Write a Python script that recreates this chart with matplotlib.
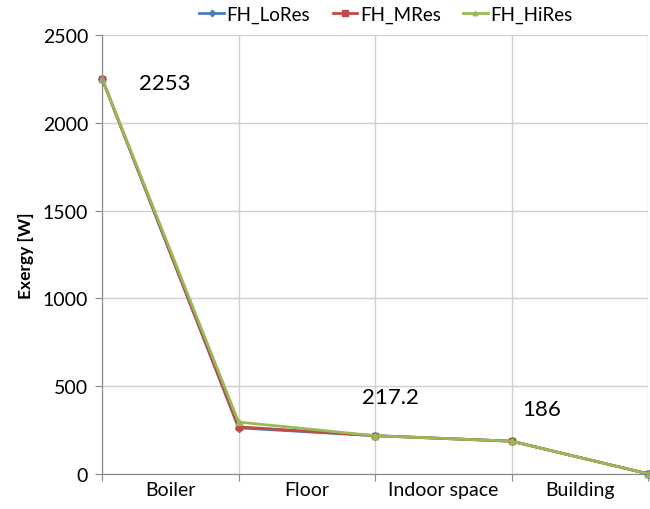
import numpy as np
import matplotlib.pyplot as plt

plt.rcParams['font.family'] = ['Lato', 'DejaVu Sans']

# data
stages = ["Boiler", "Floor", "Indoor space", "Building"]
lores = [2253, 262, 217.2, 186, 0]
mres = [2253, 268, 217.2, 186, 0]
hires = [2253, 295, 217.2, 186, 0]
labels = ["2253", "217.2", "186"]
label_idx = [0, 2, 3]

x = np.arange(len(lores))

fig = plt.figure(figsize=(6.5, 5.1), dpi=100)
ax = fig.add_axes([0.157, 0.069, 0.84, 0.86])

ax.plot(x, lores, color="#4a7ebb", lw=2, marker="D", ms=4, label="FH_LoRes", clip_on=False)
ax.plot(x, mres, color="#be4b48", lw=2, marker="s", ms=5, label="FH_MRes", clip_on=False)
ax.plot(x, hires, color="#98b954", lw=2, marker="^", ms=4, label="FH_HiRes", clip_on=False)

offs = [(45, -3), (11, 28), (22, 23)]
for i, t, o in zip(label_idx, labels, offs):
    ax.annotate(t, (x[i], lores[i]), xytext=o, textcoords="offset points",
                fontsize=16, ha="center", va="center")

ax.set_xlim(0, 4)
ax.set_ylim(0, 2500)
ax.set_yticks(np.arange(0, 2501, 500))
ax.set_xticks(x)
ax.set_xticklabels([])
ax.set_xticks(x[:-1] + 0.5, minor=True)
ax.set_xticklabels(stages, minor=True, fontsize=14)
ax.tick_params(axis="x", which="minor", length=0, pad=5)
ax.tick_params(axis="x", which="major", length=5, color="#868686")
ax.tick_params(axis="y", labelsize=14, length=5, color="#868686", pad=5)
ax.grid(True, which="major", color="#d0d0d0", lw=1)
ax.set_axisbelow(True)
for s in ["top", "right"]:
    ax.spines[s].set_visible(False)
for s in ["left", "bottom"]:
    ax.spines[s].set_color("#868686")
ax.set_ylabel("Exergy [W]", fontsize=12.5, fontweight="bold", labelpad=6)

ax.legend(loc="lower center", bbox_to_anchor=(0.52, 0.99), ncol=3, frameon=False,
          fontsize=13.5, handlelength=1.3, handletextpad=0.15, columnspacing=1.2,
          markerscale=0.8)

fig.savefig("out.png", dpi=100)
